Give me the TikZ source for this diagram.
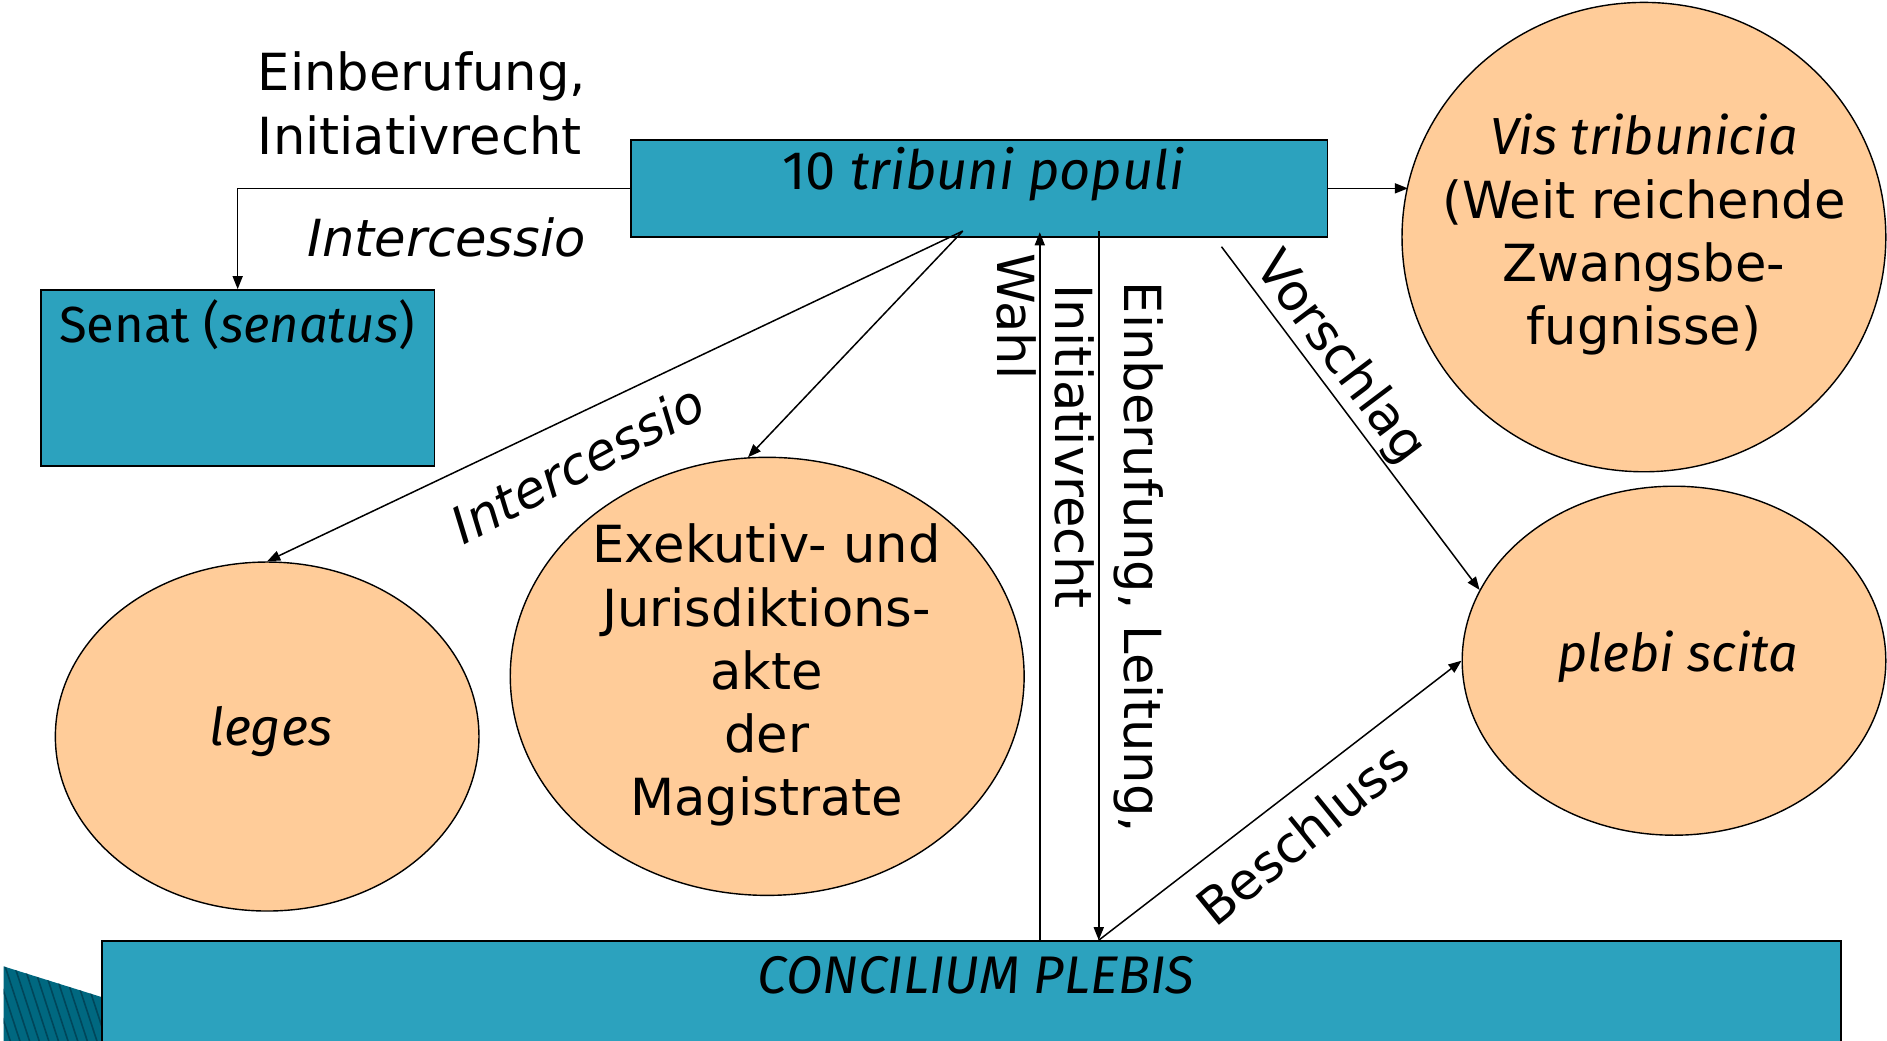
\documentclass[tikz,border=0pt]{standalone}
\usepackage{fontspec}
\setmainfont{DejaVu Sans}
\newfontfamily\narrowfont{Fira Sans}
\usetikzlibrary{arrows.meta,shapes.geometric}
\definecolor{boxteal}{RGB}{44,162,190}
\definecolor{peach}{RGB}{255,204,153}
\definecolor{decoteal}{RGB}{0,104,128}
\definecolor{decoline}{RGB}{0,70,90}
\newlength\unitpx
\setlength\unitpx{0.6pt}
\newcommand\bigfont{\fontsize{25.5}{31.5}\selectfont}
\newcommand\nfont{\narrowfont\fontsize{26}{31.5}\selectfont}
\begin{document}
\begin{tikzpicture}[x=0.6pt,y=-0.6pt,
  bluebox/.style={draw=black, line width=0.9pt, fill=boxteal, rectangle, inner sep=0pt},
  oval/.style={draw=black, line width=0.7pt, fill=peach, ellipse, inner sep=0pt},
  txt/.style={font=\bigfont, inner sep=0pt, align=center},
  ntxt/.style={font=\nfont, inner sep=0pt, align=center},
  arr/.style={line width=0.75pt, -{Triangle[length=6.5pt,width=5pt]}},
  ln/.style={line width=0.75pt}]
\useasboundingbox (0,0) rectangle (1568,865);
% decoration bottom-left
\begin{scope}
  \clip (0,0) rectangle (1568,865);
  \fill[decoteal] (3,803) -- (300,896) -- (3,896) -- cycle;
  \clip (3,803) -- (300,896) -- (3,896) -- cycle;
  \foreach \k in {-40,-32,...,300} {
    \draw[decoline, line width=0.8pt] (\k,790) -- ++(36,110);
  }
\end{scope}
% boxes
\node[bluebox, minimum width=579\unitpx, minimum height=81\unitpx] (trib) at (813.5,156.5) {};
\node[bluebox, minimum width=327\unitpx, minimum height=146\unitpx] (senat) at (197.5,314) {};
\node[bluebox, minimum width=1445\unitpx, minimum height=84\unitpx] (conc) at (807.5,824) {};
% ellipses
\node[oval, minimum width=352\unitpx, minimum height=290\unitpx] (leges) at (222,612) {};
\node[oval, minimum width=427\unitpx, minimum height=364\unitpx] (exek) at (637.5,562) {};
\node[oval, minimum width=402\unitpx, minimum height=390\unitpx] (vis) at (1366,197) {};
\node[oval, minimum width=352\unitpx, minimum height=290\unitpx] (pleb) at (1391,549) {};
% texts in shapes
\node[ntxt, font=\narrowfont\fontsize{27}{31.5}\selectfont] (tribtxt) at (817,145) {10 \textit{tribuni populi}};
\node[ntxt, font=\narrowfont\fontsize{25.3}{31.5}\selectfont] (senattxt) at (197,270) {Senat (\textit{senatus})};
\node[ntxt, font=\narrowfont\fontsize{26.4}{31.5}\selectfont] (conctxt) at (811,810) {\textit{CONCILIUM PLEBIS}};
\node[ntxt] (legestxt) at (225,608) {\textit{leges}};
\node[txt] (exektxt) at (637,561) {Exekutiv- und\\Jurisdiktions-\\akte\\der\\Magistrate};
\node[txt] (vistxt) at (1366,195) {{\nfont\itshape Vis tribunicia}\\(Weit reichende\\Zwangsbe-\\fugnisse)};
\node[ntxt] (plebtxt) at (1394,546) {\textit{plebi scita}};
% coordinates
\coordinate (tsrc) at (800,192);
\coordinate (wtop) at (864,193);
\coordinate (dtop) at (913,192);
\coordinate (vsrc) at (1015,205);
% connectors
\draw[arr] (trib.west) -| (senat.north);
\draw[arr] (tsrc) -- (leges.north);
\draw[arr] (tsrc) -- (exek.95);
\draw[arr] (conc.north -| wtop) -- (wtop);
\draw[arr] (dtop) -- (dtop |- conc.north);
\draw[arr] (dtop |- conc.north) -- (pleb.west);
\draw[arr] (vsrc) -- (pleb.160);
\draw[arr] (trib.east) -- (trib.east -| vis.167);
% labels
\node[txt, align=left, anchor=west] (einb) at (214,86) {Einberufung,\\Initiativrecht};
\node[txt] (interc1) at (371,197) {\textit{Intercessio}};
\node[txt, rotate=28] (interc2) at (480,385) {\textit{Intercessio}};
\node[txt, rotate=-90] (wahl) at (845,263) {Wahl};
\node[txt, rotate=-90] (initv) at (893,371) {Initiativrecht};
\node[txt, rotate=-90] (einbl) at (946,463) {Einberufung, Leitung,};
\node[txt, rotate=-53] (vorsch) at (1113,298) {Vorschlag};
\node[txt, rotate=39] (besch) at (1082,693) {Beschluss};
\end{tikzpicture}
\end{document}
